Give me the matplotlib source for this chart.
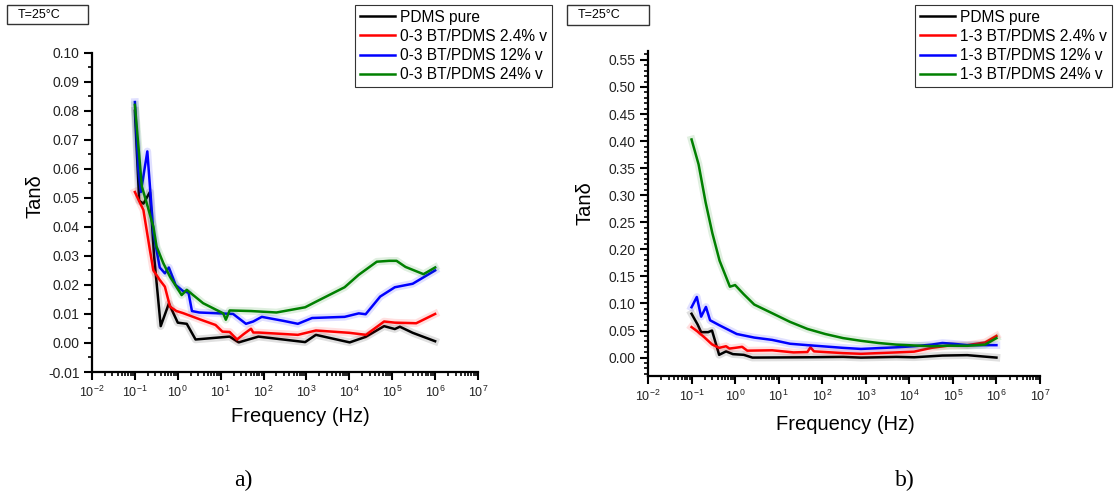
import matplotlib
matplotlib.use("Agg")
import matplotlib.pyplot as plt
from matplotlib.ticker import LogLocator, MultipleLocator, AutoMinorLocator, FormatStrFormatter, NullFormatter
from matplotlib.patches import Rectangle

plt.rcParams['font.family'] = ['Liberation Sans', 'DejaVu Sans']
plt.rcParams['mathtext.fontset'] = 'custom'
plt.rcParams['mathtext.rm'] = 'Liberation Sans'
plt.rcParams['mathtext.it'] = 'Liberation Sans:italic'
plt.rcParams['mathtext.bf'] = 'Liberation Sans:bold'

# ---------------- Panel a) 0-3 composites ----------------
labels_a = ["PDMS pure", "0-3 BT/PDMS 2.4% v", "0-3 BT/PDMS 12% v", "0-3 BT/PDMS 24% v"]

a_pure_f = [0.1, 0.126, 0.158, 0.224, 0.28, 0.4, 0.62, 1.0, 1.62, 2.6, 16.2, 26.3, 76, 933, 1660,
            1.02e4, 2.4e4, 6.46e4, 1.15e5, 1.51e5, 3.0e5, 1e6]
a_pure_v = [0.080, 0.049, 0.048, 0.052, 0.030, 0.0058, 0.0136, 0.0070, 0.0066, 0.0012, 0.0022, 0.0002,
            0.0022, 0.0003, 0.0028, 0.0002, 0.0021, 0.0058, 0.0048, 0.0056, 0.0035, 0.0006]

a_24_f = [0.1, 0.158, 0.224, 0.27, 0.38, 0.5, 0.66, 0.93, 1.32, 3.47, 7.6, 11, 16.2, 24, 34.7, 51,
          57.5, 76, 631, 1660, 1.0e4, 2.45e4, 6.46e4, 1.15e5, 3.63e5, 1e6]
a_24_v = [0.052, 0.0458, 0.032, 0.025, 0.0217, 0.0194, 0.0125, 0.0110, 0.0103, 0.0080, 0.0062, 0.0039,
          0.0038, 0.0012, 0.0031, 0.0049, 0.0036, 0.0036, 0.0028, 0.0043, 0.0035, 0.0028, 0.0074,
          0.0070, 0.0068, 0.0100]

a_12_f = [0.1, 0.12, 0.138, 0.195, 0.27, 0.38, 0.5, 0.62, 0.89, 1.32, 1.78, 2.14, 3.16, 19.5, 38.9,
          57.5, 91, 295, 631, 1350, 7760, 1.66e4, 2.4e4, 5.25e4, 1.15e5, 3.0e5, 1e6]
a_12_v = [0.083, 0.060, 0.052, 0.066, 0.038, 0.026, 0.024, 0.026, 0.020, 0.0179, 0.0173, 0.0110,
          0.0105, 0.0100, 0.0066, 0.0074, 0.0090, 0.0076, 0.0066, 0.0086, 0.0090, 0.0102, 0.0099,
          0.0160, 0.0192, 0.0204, 0.0250]

a_24v_f = [0.1, 0.145, 0.19, 0.27, 0.32, 0.46, 0.66, 1.23, 1.62, 3.9, 11.5, 13.2, 16.2, 51, 200, 933,
           1660, 7760, 1.66e4, 4.37e4, 8.5e4, 1.26e5, 2.04e5, 5.37e5, 1e6]
a_24v_v = [0.082, 0.054, 0.048, 0.040, 0.0332, 0.0275, 0.0228, 0.0165, 0.0183, 0.0137, 0.0102, 0.0080,
           0.0112, 0.0110, 0.0105, 0.0123, 0.0142, 0.0192, 0.0235, 0.0280, 0.0283, 0.0283, 0.0262,
           0.0237, 0.0260]

# ---------------- Panel b) 1-3 composites ----------------
labels_b = ["PDMS pure", "1-3 BT/PDMS 2.4% v", "1-3 BT/PDMS 12% v", "1-3 BT/PDMS 24% v"]

b_pure_f = [0.1, 0.138, 0.166, 0.24, 0.295, 0.43, 0.62, 0.89, 1.58, 2.5, 45.7, 302, 776, 5000,
            1.29e4, 5.75e4, 2.14e5, 1e6]
b_pure_v = [0.081, 0.061, 0.047, 0.047, 0.050, 0.0051, 0.0115, 0.0064, 0.0051, 0.0, 0.0006, 0.0013,
            0.0, 0.0013, 0.0006, 0.0038, 0.0045, 0.0]

b_24_f = [0.1, 0.138, 0.2, 0.295, 0.43, 0.62, 0.74, 1.0, 1.45, 1.9, 7.1, 21.9, 45.7, 53.7, 64.6, 302,
          776, 5000, 1.29e4, 3.24e4, 8.3e4, 2.14e5, 5.5e5, 1e6]
b_24_v = [0.0564, 0.048, 0.037, 0.0244, 0.018, 0.021, 0.0167, 0.018, 0.0199, 0.0128, 0.0135, 0.0096,
          0.0103, 0.019, 0.0115, 0.0083, 0.007, 0.0096, 0.011, 0.018, 0.0224, 0.023, 0.028, 0.040]

b_12_f = [0.1, 0.132, 0.166, 0.214, 0.266, 0.43, 1.09, 2.75, 7.1, 18.2, 45.7, 302, 776, 5000,
          1.29e4, 3.24e4, 5.75e4, 1e5, 2.14e5, 1e6]
b_12_v = [0.093, 0.112, 0.0756, 0.0936, 0.069, 0.060, 0.0436, 0.037, 0.0327, 0.0256, 0.023, 0.018,
          0.016, 0.019, 0.021, 0.024, 0.027, 0.0256, 0.023, 0.023]

b_24v_f = [0.1, 0.145, 0.21, 0.30, 0.44, 0.76, 1.0, 1.58, 2.75, 7.1, 18.2, 45.7, 117, 302, 776, 1950,
           5000, 1.29e4, 3.24e4, 8.3e4, 2.14e5, 5.5e5, 1e6]
b_24v_v = [0.403, 0.357, 0.287, 0.230, 0.179, 0.131, 0.134, 0.117, 0.098, 0.082, 0.066, 0.053,
           0.0436, 0.036, 0.031, 0.027, 0.024, 0.0224, 0.021, 0.022, 0.0218, 0.024, 0.036]

colors = ["#000000", "#ff0000", "#0000ff", "#008000"]

W, H = 1116, 493
fig = plt.figure(figsize=(W / 100, H / 100), dpi=100)


def px_rect(x0, y0, x1, y1):
    return [x0 / W, 1 - y1 / H, (x1 - x0) / W, (y1 - y0) / H]


ax1 = fig.add_axes(px_rect(92, 52.7, 478, 372))
ax2 = fig.add_axes(px_rect(648, 50.7, 1040, 376))


def draw(ax, series, labels):
    handles = []
    for (f, v), c, lab in zip(series, colors, labels):
        ax.plot(f, v, color=c, lw=5.5, alpha=0.12, solid_joinstyle='round')
        h, = ax.plot(f, v, color=c, lw=1.8, label=lab)
        handles.append(h)
    return handles


def style(ax):
    ax.set_xscale('log')
    ax.set_xlim(1e-2, 1e7)
    for s in ('top', 'right'):
        ax.spines[s].set_visible(False)
    for s in ('left', 'bottom'):
        ax.spines[s].set_linewidth(1.6)
    ax.xaxis.set_major_locator(LogLocator(base=10, numticks=20))
    ax.xaxis.set_minor_locator(LogLocator(base=10, subs=range(2, 10), numticks=20))
    ax.xaxis.set_minor_formatter(NullFormatter())
    ax.tick_params(which='major', direction='out', length=5.5, width=1.5,
                   colors='black', labelcolor='#222222')
    ax.tick_params(axis='x', which='major', labelsize=9)
    ax.tick_params(axis='y', which='major', labelsize=10)
    ax.tick_params(which='minor', direction='out', length=3, width=1.2)
    ax.yaxis.set_major_formatter(FormatStrFormatter('%.2f'))


h1 = draw(ax1, [(a_pure_f, a_pure_v), (a_24_f, a_24_v), (a_12_f, a_12_v), (a_24v_f, a_24v_v)], labels_a)
style(ax1)
ax1.set_ylim(-0.01, 0.10)
ax1.yaxis.set_major_locator(MultipleLocator(0.01))
ax1.yaxis.set_minor_locator(AutoMinorLocator(2))

h2 = draw(ax2, [(b_pure_f, b_pure_v), (b_24_f, b_24_v), (b_12_f, b_12_v), (b_24v_f, b_24v_v)], labels_b)
style(ax2)
ax2.set_ylim(-0.034, 0.567)
ax2.yaxis.set_major_locator(MultipleLocator(0.05))
ax2.yaxis.set_minor_locator(AutoMinorLocator(5))

leg_kw = dict(loc='upper left', bbox_transform=fig.transFigure, fontsize=11.2, frameon=True,
              fancybox=False, framealpha=1, edgecolor='#333333', borderpad=0.3, borderaxespad=0,
              handlelength=2.3, handletextpad=0.3, labelspacing=0.27)
l1 = ax1.legend(handles=h1, bbox_to_anchor=(355 / W, 1 - 5 / H), **leg_kw)
l2 = ax2.legend(handles=h2, bbox_to_anchor=(915 / W, 1 - 5 / H), **leg_kw)
for l in (l1, l2):
    l.get_frame().set_linewidth(0.8)
    l.set_zorder(10)

# axis titles
fig.text(35 / W, 1 - 196 / H, "Tanδ", rotation=90, ha='center', va='center', fontsize=14.5)
fig.text(585 / W, 1 - 203 / H, "Tanδ", rotation=90, ha='center', va='center', fontsize=14.5)
fig.text(300 / W, 1 - 417 / H, "Frequency (Hz)", ha='center', va='center', fontsize=14.5)
fig.text(845 / W, 1 - 424 / H, "Frequency (Hz)", ha='center', va='center', fontsize=14.5)

# temperature boxes
for (x0, x1, y0, y1) in [(7, 88, 5, 24), (567, 649, 5, 25)]:
    fig.patches.append(Rectangle((x0 / W, 1 - y1 / H), (x1 - x0) / W, (y1 - y0) / H,
                                 transform=fig.transFigure, fill=False, edgecolor='#333333', lw=1.0))
    fig.text((x0 + 11) / W, 1 - (y0 + y1) / 2 / H, "T=25°C", ha='left', va='center', fontsize=9)

# panel letters
fig.text(243 / W, 1 - 480 / H, "a)", ha='center', va='center', fontsize=17,
         family=['Liberation Serif', 'DejaVu Serif'])
fig.text(905 / W, 1 - 480 / H, "b)", ha='center', va='center', fontsize=17,
         family=['Liberation Serif', 'DejaVu Serif'])

fig.savefig("out.png", dpi=100)
